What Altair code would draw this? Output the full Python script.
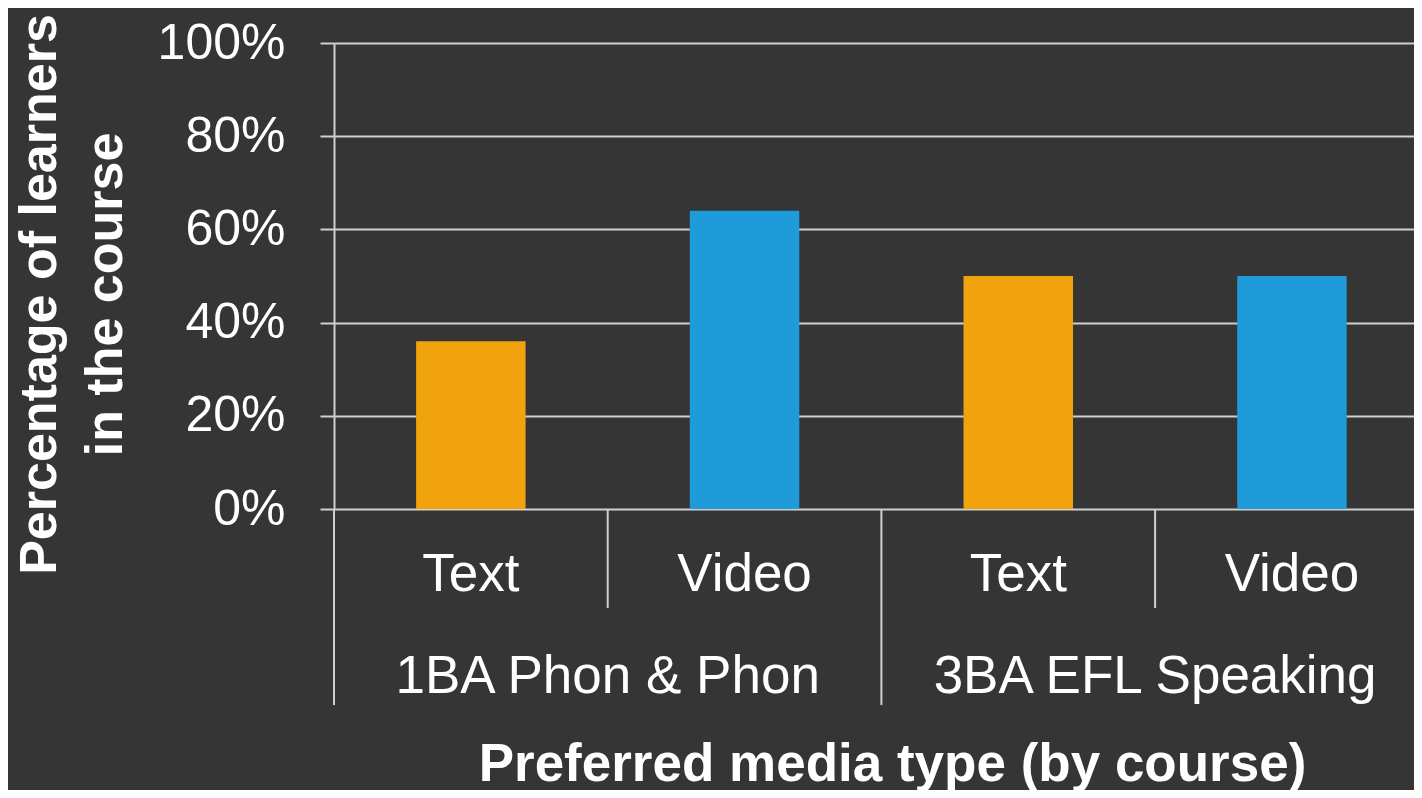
import altair as alt
import pandas as pd

# ---- data ----
courses = ["1BA Phon & Phon", "1BA Phon & Phon", "3BA EFL Speaking", "3BA EFL Speaking"]
media = ["Text", "Video", "Text", "Video"]
values = [0.36, 0.64, 0.50, 0.50]
y_ticks = [0, 0.2, 0.4, 0.6, 0.8, 1.0]

df = pd.DataFrame({"course": courses, "media": media, "value": values})
df["idx"] = range(len(df))

grp = df.groupby("course", sort=False)["idx"].agg(["min", "max"]).reset_index()
grp["start"] = grp["min"]
grp["end"] = grp["max"] + 1

short_pos = [i for i in range(1, len(df)) if courses[i] == courses[i - 1]]
long_pos = [i for i in range(len(df)) if i == 0 or courses[i] != courses[i - 1]]
short_df = pd.DataFrame({"pos": short_pos})
long_df = pd.DataFrame({"pos": long_pos})

W, H = 1080, 466
STEP = 273.7
xscale = alt.Scale(domain=[0, W / STEP], nice=False, zero=False, padding=0)
FONT = "Liberation Sans"
WHITE = "#ffffff"
LINE = "#d0d0d0"
BG = "#353535"

base = alt.Chart(df)

bars = base.transform_calculate(
    x0="datum.idx + 0.3", x1="datum.idx + 0.7"
).mark_bar(orient="vertical").encode(
    x=alt.X("x0:Q", scale=xscale,
            axis=alt.Axis(labels=False, ticks=False, domain=False, grid=False,
                          title="Preferred media type (by course)",
                          titleFont=FONT, titleFontSize=53, titleFontWeight="bold",
                          titleColor=WHITE, titleX=558, titleY=255,
                          titleBaseline="middle", titleAlign="center")),
    x2="x1:Q",
    y=alt.Y("value:Q", scale=alt.Scale(domain=[0, 1], nice=False, padding=0),
            axis=alt.Axis(values=y_ticks, format=".0%", offset=0,
                          labelFont=FONT, labelFontSize=50, labelColor=WHITE,
                          labelPadding=35, tickSize=14, tickColor=LINE, tickWidth=2,
                          domainColor=LINE, domainWidth=2,
                          grid=True, gridColor=LINE, gridWidth=2,
                          title=["Percentage of learners", "in the course"],
                          titleFont=FONT, titleFontSize=52, titleFontWeight="bold",
                          titleColor=WHITE, titleLineHeight=66,
                          titleX=-295, titleY=251, titleBaseline="middle",
                          titleAngle=270)),
    y2=alt.datum(0),
    color=alt.Color("media:N", scale=alt.Scale(domain=["Text", "Video"],
                                               range=["#F0A30C", "#1F9BDA"]),
                    legend=None),
)

media_labels = base.transform_calculate(xc="datum.idx + 0.5").mark_text(
    font=FONT, fontSize=53, color=WHITE, baseline="middle", align="center"
).encode(x=alt.X("xc:Q", scale=xscale), y=alt.value(532), text="media:N")

course_labels = alt.Chart(grp).transform_calculate(
    xc="(datum.start + datum.end) / 2"
).mark_text(
    font=FONT, fontSize=53, color=WHITE, baseline="middle", align="center"
).encode(x=alt.X("xc:Q", scale=xscale), y=alt.value(634), text="course:N")

short_rules = alt.Chart(short_df).mark_rule(color=LINE, strokeWidth=2).encode(
    x=alt.X("pos:Q", scale=xscale), y=alt.value(H), y2=alt.value(565)
)
long_rules = alt.Chart(long_df).mark_rule(color=LINE, strokeWidth=2).encode(
    x=alt.X("pos:Q", scale=xscale), y=alt.value(H), y2=alt.value(662)
)

chart = alt.layer(bars, short_rules, long_rules, media_labels, course_labels).properties(
    width=W, height=H,
    background=BG,
    padding={"left": 326, "top": 35, "right": 0, "bottom": 281},
    autosize=alt.AutoSizeParams(type="none"),
).configure_view(stroke=None)

chart.save("out.html", embed_options={"renderer": "svg", "actions": False})
